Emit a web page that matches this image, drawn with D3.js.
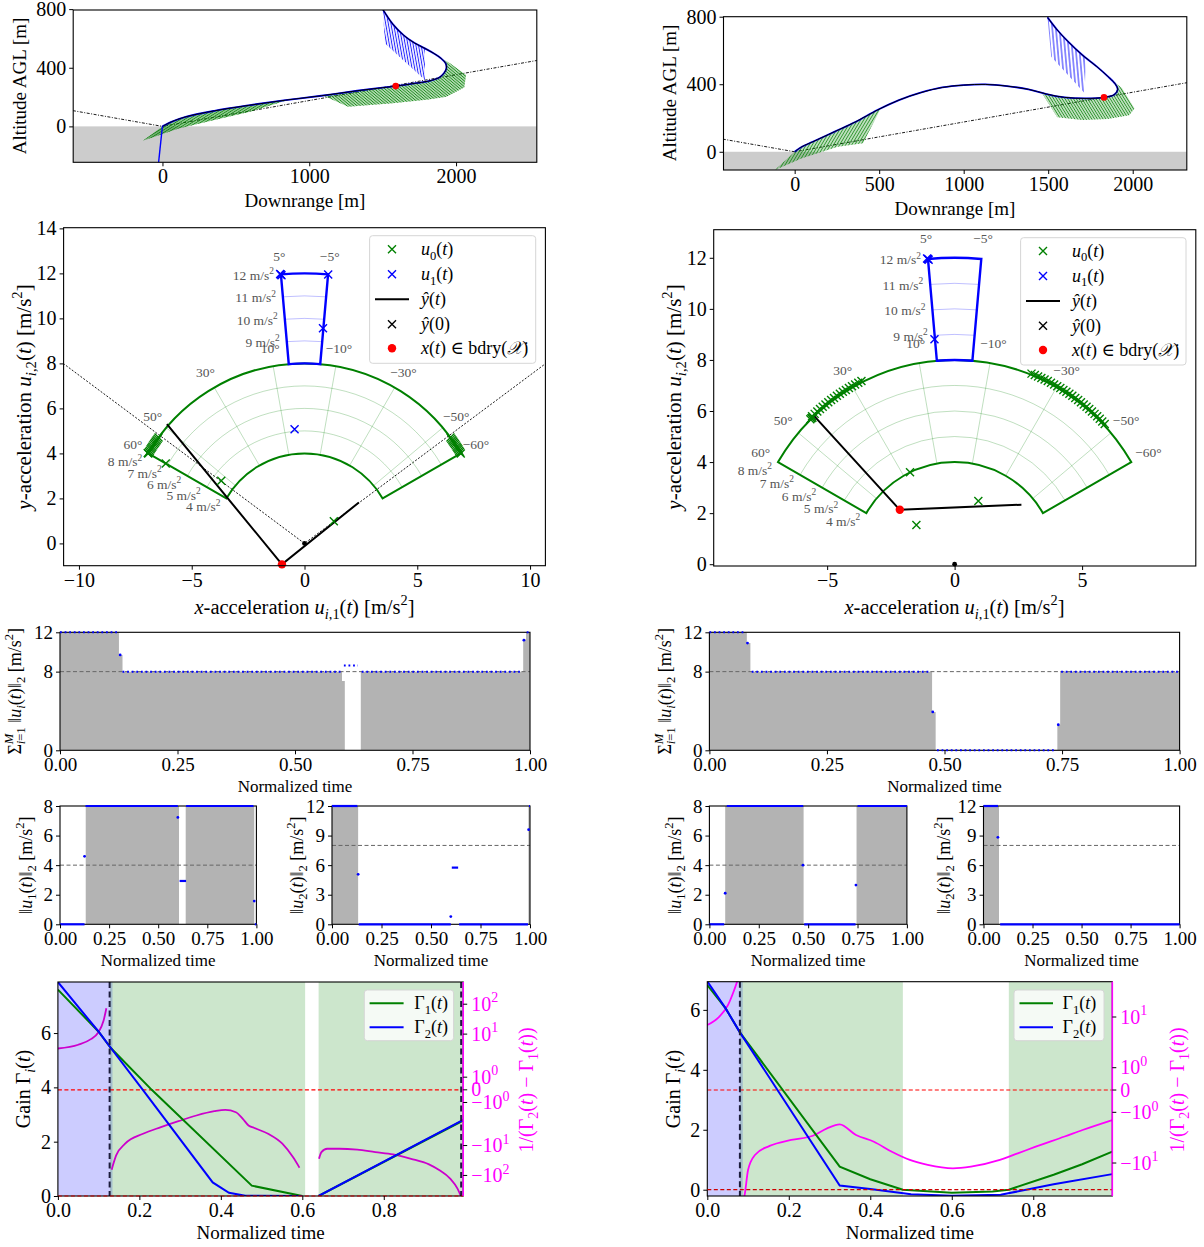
<!DOCTYPE html>
<html><head><meta charset="utf-8">
<script src="https://cdn.jsdelivr.net/npm/d3@7"></script>
<style>
body{margin:0;background:#fff;}
svg{display:block;}
</style></head><body>
<script>
// ===================== DATA =====================
// --- Trajectories (downrange m, altitude m) ---
const glideA = [[-610, 107.5], [0, 0], [2560, 451.4]];
const trajA = [[1501,798],[1569,698],[1642,623],[1715,570],[1788,532],[1849,498],[1898,464],[1929,430],[1934,396],[1917,362],[1886,334],[1813,309],[1715,293],[1589,275],[1326,243],[1082,209],[839,179],[596,145],[353,106],[158,65],[61,31],[17,9],[0,0]];
const boundaryA = [1589, 275];
const thrustU0A_early = [[0,0],[17,9],[61,31],[158,65],[353,106],[596,145],[839,179],[876,185],[815,168],[596,100],[353,43],[110,-14],[-134,-98]];
const thrustU0A_late = [[1095,211],[1326,243],[1589,275],[1715,293],[1813,309],[1886,334],[1917,362],[1934,396],[1929,430],[1898,464],[1849,498],[1788,532],[1958,430],[2068,350],[2056,266],[1934,202],[1813,184],[1569,157],[1265,134]];
const thrustU1A = [[1501,798],[1569,698],[1642,623],[1715,570],[1788,532],[1788,316],[1516,566]];
const landingU1A = [[0, 3], [-32, -300]];

const glideB = [[-425, 74.9], [0, 0], [2330, 410.8]];
const trajB = [[1496,796],[1554,721],[1618,652],[1702,573],[1788,504],[1851,448],[1894,405],[1911,370],[1890,338],[1830,322],[1724,316],[1597,322],[1490,342],[1383,370],[1256,389],[1128,399],[1000,395],[873,381],[745,350],[617,306],[489,247],[362,178],[234,118],[107,59],[43,30],[0,0]];
const boundaryB = [1830, 322];
const thrustU0B_early = [[0,0],[43,30],[107,59],[234,118],[362,178],[489,247],[510,258],[404,50],[255,30],[43,-39],[-117,-108]];
const thrustU0B_late = [[1464,346],[1490,342],[1597,322],[1724,316],[1830,322],[1890,338],[1911,370],[1894,405],[1851,448],[1788,504],[1702,573],[1937,376],[2011,257],[1979,217],[1851,194],[1702,188],[1554,204]];
const thrustU1B = [[1496,796],[1554,721],[1618,652],[1702,573],[1722,556],[1716,346],[1518,563]];

// --- Acceleration sets (m/s^2, deg) ---
const mainRadii = [4, 8], mainHalfAngle = 60;
const mainGridRadii = [5, 6, 7], mainGridAngles = [-50, -30, -10, 10, 30, 50];
const mainAngleLabels = [60, 50, 30, 10, -10, -30, -50, -60];
const mainRadiusLabels = [4, 5, 6, 7, 8];
const boostRadii = [8, 12], boostHalfAngle = 5;
const boostGridRadii = [9, 10, 11];
const boostAngleLabels = [5, -5];
const boostRadiusLabels = [9, 10, 11, 12];

const glideAccC = [[-10.7, 8], [0, 0], [10.7, 8]];
const u0C = [[-3.69,2.78],[1.3,0.99],[-6.15,3.55],[-6.95,4.02]];
const u0C_arcAngles = [54,54.5,55,55.5,56,56.5,57,57.5,58,58.5,59,59.5,60,-54,-54.5,-55,-55.5,-56,-56.5,-57,-57.5,-58,-58.5,-59,-59.5,-60];
const u1C = [[-1.05,11.95],[-1.02,11.92],[-1.08,11.97],[1.05,11.95],[0.82,9.56],[-0.44,5.07]];
const yhatC = [[-6.1,5.3],[-1.0,-0.93],[2.41,1.82]];
const boundaryC = [-1.0, -0.93];

const u0D = [[-1.75,3.6],[0.93,2.48],[-1.5,1.54],[-5.62,5.72],[-5.58,5.74],[-5.66,5.68]];
const u0D_arcAngles = [27,28,29,30,31,32,33,34,35,36,37,38,39,40,41,42,43,44,-22,-23,-24,-25,-26,-27,-28,-29,-30,-31,-32,-33,-34,-35,-36,-37,-38,-39,-40,-41,-42,-43,-44,-45,-46,-47];
const u1D = [[-1.05,11.95],[-1.02,11.92],[-1.08,11.97],[-0.79,8.81]];
const yhatD = [[-5.55,5.85],[-2.15,2.13],[2.62,2.33]];
const boundaryD = [-2.15, 2.13];

// --- Thrust magnitude histories (normalized time, m/s^2) ---
const sumFillE = [[0,12],[0.1254,9.7],[0.133,8],[0.6,7.05],[0.606,0],[0.64,8],[0.9855,11.3],[0.9916,12],[1,12]];
const sumRunsE = [[0,0.123,12],[0.133,0.598,8],[0.604,0.634,8.62],[0.642,0.983,8],[0.993,1,12]];
const sumDotsE = [[0.128,9.7],[0.987,11.2]];
const sumFillF = [[0,12],[0.0796,10.9],[0.0872,8],[0.4736,3.9],[0.4812,0],[0.74,2.6],[0.746,8],[1,8]];
const sumRunsF = [[0,0.077,12],[0.09,0.47,8],[0.484,0.737,0],[0.748,1,8]];
const sumDotsF = [[0.081,10.9],[0.475,3.9],[0.742,2.6]];

const u1FillG = [[0,0],[0.131,8],[0.606,0],[0.64,8],[0.989,0],[1,0]];
const u1RunsG = [[0,0.125,0],[0.13,0.6,8],[0.609,0.642,2.93],[0.642,0.985,8],[0.992,1,0]];
const u1DotsG = [[0.125,4.6],[0.6,7.23],[0.989,1.57]];
const u2FillH = [[0,12],[0.132,0],[0.992,12],[1,12]];
const u2RunsH = [[0,0.128,12],[0.135,0.6,0],[0.605,0.637,5.75],[0.642,0.99,0],[0.995,1,12]];
const u2DotsH = [[0.132,5.07],[0.6,0.78],[0.993,9.6]];
const u1FillI = [[0,0],[0.08,8],[0.477,0],[0.745,8],[1,8]];
const u1RunsI = [[0,0.075,0],[0.088,0.475,8],[0.48,0.74,0],[0.75,1,8]];
const u1DotsI = [[0.08,2.1],[0.474,4.0],[0.742,2.65]];
const u2FillJ = [[0,12],[0.079,0],[1,0]];
const u2RunsJ = [[0,0.074,12],[0.085,1,0]];
const u2DotsJ = [[0.0734,8.82]];

// --- Gains ---
const gamma1K = [[[0,7.6],[0.1,6.05],[0.13,5.45],[0.231,3.9],[0.476,0.38],[0.6,0.0]],[[0.64,0.0],[0.995,2.78]]];
const gamma2K = [[[0,7.88],[0.1,6.05],[0.13,5.45],[0.209,3.9],[0.38,0.5],[0.42,0.12],[0.46,0.01],[0.6,0.0]],[[0.64,0.0],[0.995,2.8]]];
const invDiffK = [
  [[0,3.3],[0.05,4.4],[0.081,6.8],[0.099,11.3],[0.112,27.8],[0.119,73]],
  [[0.132,-64],[0.143,-21.4],[0.165,-8.7],[0.209,-4.05],[0.253,-2.95],[0.296,-2.48],[0.34,-2.03],[0.384,-1.69],[0.411,-1.58],[0.437,-1.77],[0.454,-2.29],[0.468,-2.82],[0.481,-3.0],[0.516,-4.05],[0.551,-8.7],[0.577,-24.4],[0.593,-55]],
  [[0.641,-27.7],[0.647,-16.6],[0.661,-12.8],[0.691,-12.8],[0.735,-13.8],[0.779,-16.6],[0.823,-19.8],[0.867,-27.7],[0.911,-42.7],[0.937,-67.6],[0.963,-128],[0.981,-277],[0.989,-480]]
];
const phaseBoostK = [[0, 0.134]], phaseMainK = [[0.128, 0.607], [0.64, 0.995]];
const switchK = [0.127, 0.99];

const gamma1L = [[0,6.83],[0.045,6.05],[0.08,5.25],[0.325,0.77],[0.4,0.35],[0.48,0.0],[0.6,-0.1],[0.7,-0.06],[0.74,0.0],[0.85,0.5],[0.92,0.85],[0.994,1.27]];
const gamma2L = [[0,6.95],[0.045,6.05],[0.08,5.25],[0.325,0.14],[0.4,0.02],[0.5,-0.15],[0.6,-0.2],[0.72,-0.17],[0.85,0.18],[0.994,0.52]];
const invDiffL = [
  [[0,6.95],[0.029,10.1],[0.051,17.3],[0.066,34],[0.075,55]],
  [[0.088,-50],[0.091,-44.7],[0.1,-13.7],[0.117,-6.95],[0.153,-4.6],[0.206,-3.5],[0.259,-2.9],[0.294,-2.07],[0.325,-1.73],[0.365,-2.8],[0.409,-3.8],[0.453,-6.0],[0.497,-8.7],[0.541,-10.9],[0.603,-12.7],[0.647,-11.8],[0.718,-8.7],[0.762,-6.45],[0.806,-4.75],[0.877,-3.0],[0.921,-2.23],[0.994,-1.42]]
];
const phaseBoostL = [[0, 0.087]], phaseMainL = [[0.08, 0.48], [0.74, 0.994]];
const switchL = [0.08];

// ===================== DRAWING =====================
const FONT = '"Liberation Serif","DejaVu Serif",serif';
const GREEN = '#008000', BLUE = '#0000ff';
const svg = d3.select('body').append('svg').attr('width', 1204).attr('height', 1247)
  .attr('font-family', FONT);
const defs = svg.append('defs');
let clipN = 0;

function panel(box, xd, yd) {
  const g = svg.append('g');
  const x = d3.scaleLinear().domain(xd).range([box.l, box.r]);
  const y = d3.scaleLinear().domain(yd).range([box.b, box.t]);
  const id = 'clip' + (clipN++);
  defs.append('clipPath').attr('id', id).append('rect')
    .attr('x', box.l).attr('y', box.t).attr('width', box.r - box.l).attr('height', box.b - box.t);
  const inner = g.append('g').attr('clip-path', `url(#${id})`);
  return { g, inner, x, y, box };
}
function frame(p) {
  p.g.append('rect').attr('x', p.box.l).attr('y', p.box.t)
    .attr('width', p.box.r - p.box.l).attr('height', p.box.b - p.box.t)
    .attr('fill', 'none').attr('stroke', '#000').attr('stroke-width', 1.1);
}
function axes(p, o) {
  const gx = p.g.append('g').attr('transform', `translate(0,${p.box.b})`)
    .call(d3.axisBottom(p.x).tickValues(o.xt).tickFormat(o.xf).tickSize(4).tickPadding(3));
  const gy = p.g.append('g').attr('transform', `translate(${p.box.l},0)`)
    .call(d3.axisLeft(p.y).tickValues(o.yt).tickFormat(o.yf).tickSize(4).tickPadding(3));
  for (const s of [gx, gy]) {
    s.attr('font-family', FONT).attr('font-size', o.fs);
    s.select('.domain').remove();
    s.selectAll('line').attr('stroke', '#000').attr('stroke-width', 1);
    s.selectAll('text').attr('fill', '#000');
  }
  return gy;
}

// Minimal math-text renderer: $..$ toggles italics, _{..} subscript, ^{..} superscript
function rich(text, str, fs) {
  const ch = Array.from(str);
  const toks = [];
  let it = false, i = 0, grpId = 0;
  const push = (c, sh, gid) => {
    const last = toks[toks.length - 1];
    if (last && last.it === it && last.sh === sh && last.gid === gid) last.tx += c;
    else toks.push({ tx: c, it, sh, gid });
  };
  while (i < ch.length) {
    const c = ch[i];
    if (c === '$') { it = !it; i++; continue; }
    if (c === '_' || c === '^') {
      const sh = c === '_' ? 'sub' : 'sup';
      i++;
      let grp;
      if (ch[i] === '{') { const j = ch.indexOf('}', i); grp = ch.slice(i + 1, j); i = j + 1; }
      else { grp = [ch[i]]; i++; }
      grpId++;
      for (const g of grp) { if (g === '$') { it = !it; continue; } push(g, sh, grpId); }
      continue;
    }
    push(c, null, 0); i++;
  }
  let cur = 0, prevSh = null, prevGid = -1, grpLen = 0;
  for (const t of toks) {
    const ts = text.append('tspan').text(t.tx)
      .attr('font-size', t.sh ? fs * 0.7 : fs)
      .attr('font-style', t.it ? 'italic' : 'normal');
    const target = t.sh === 'sub' ? 0.25 * fs : t.sh === 'sup' ? -0.42 * fs : 0;
    if (target !== cur) { ts.attr('dy', target - cur); cur = target; }
    if (t.sh && prevSh && prevSh !== t.sh && t.gid !== prevGid && grpLen > 0) {
      ts.attr('dx', -grpLen); grpLen = 0;
    }
    if (t.gid !== prevGid) grpLen = 0;
    grpLen += ts.node().getComputedTextLength();
    prevSh = t.sh; prevGid = t.gid;
  }
  return text;
}
function label(g, x, y, str, fs, o = {}) {
  const t = g.append('text').attr('font-size', fs).attr('text-anchor', o.anchor || 'middle')
    .attr('fill', o.color || '#000');
  if (o.rotate) t.attr('transform', `translate(${x},${y}) rotate(${o.rotate})`).attr('x', 0).attr('y', 0.33 * fs);
  else t.attr('x', x).attr('y', y + 0.33 * fs);
  rich(t, str, fs);
  return t;
}
function hatch(id, color, spacing, angle, width) {
  const pt = defs.append('pattern').attr('id', id).attr('patternUnits', 'userSpaceOnUse')
    .attr('width', spacing).attr('height', 10).attr('patternTransform', `rotate(${angle - 90})`);
  pt.append('line').attr('x1', spacing / 2).attr('x2', spacing / 2).attr('y1', -1).attr('y2', 11)
    .attr('stroke', color).attr('stroke-width', width);
}
const lineXY = p => d3.line().x(d => p.x(d[0])).y(d => p.y(d[1]));

// ---------- Trajectory panels ----------
function trajectory(box, xd, yd, data, ticks, xlab, ylab) {
  const p = panel(box, xd, yd);
  p.inner.append('rect').attr('x', p.box.l).attr('width', p.box.r - p.box.l)
    .attr('y', p.y(0)).attr('height', p.box.b - p.y(0)).attr('fill', '#cccccc');
  p.inner.append('path').attr('d', lineXY(p)(data.glide)).attr('fill', 'none')
    .attr('stroke', '#000').attr('stroke-width', 0.9).attr('stroke-dasharray', '3,1.5,1,1.5');
  for (const r of data.regions) {
    const d = lineXY(p).curve(d3.curveLinearClosed)(r.poly);
    if (r.tint) p.inner.append('path').attr('d', d).attr('fill', r.color).attr('fill-opacity', r.tint);
    p.inner.append('path').attr('d', d).attr('fill', `url(#${r.pat})`);
  }
  if (data.landing) p.inner.append('path').attr('d', lineXY(p)(data.landing)).attr('stroke', BLUE)
    .attr('stroke-width', 1.4).attr('fill', 'none');
  const tl = lineXY(p).curve(d3.curveCatmullRom.alpha(0.5));
  p.inner.append('path').attr('d', tl(data.traj)).attr('fill', 'none').attr('stroke', BLUE).attr('stroke-width', 1.8);
  p.inner.append('path').attr('d', tl(data.traj)).attr('fill', 'none').attr('stroke', '#000').attr('stroke-width', 1);
  p.g.append('circle').attr('cx', p.x(data.red[0])).attr('cy', p.y(data.red[1])).attr('r', 3.3).attr('fill', 'red');
  frame(p);
  axes(p, { xt: ticks.x, yt: ticks.y, xf: d3.format('d'), yf: d3.format('d'), fs: 20 });
  label(svg, xlab[0], xlab[1], 'Downrange [m]', 19);
  label(svg, ylab[0], ylab[1], 'Altitude AGL [m]', 19, { rotate: -90 });
}
hatch('hA0', GREEN, 2.2, 148, 0.7);
hatch('hA1', GREEN, 2.2, 40, 0.7);
hatch('hA2', BLUE, 2.6, 80, 0.8);
hatch('hB0', GREEN, 2.6, 121, 0.7);
hatch('hB1', GREEN, 2.4, 58, 0.7);
hatch('hB2', BLUE, 3.6, 85, 0.9);

trajectory({ l: 73.2, r: 536.8, t: 10, b: 162.3 }, [-608, 2550], [-245, 794], {
  glide: glideA, traj: trajA, red: boundaryA, landing: landingU1A,
  regions: [
    { poly: thrustU0A_early, pat: 'hA0', color: GREEN, tint: 0.45 },
    { poly: thrustU0A_late, pat: 'hA1', color: GREEN, tint: 0.32 },
    { poly: thrustU1A, pat: 'hA2', color: BLUE, tint: 0.08 }
  ]
}, { x: [0, 1000, 2000], y: [0, 400, 800] }, [305, 201], [20, 86]);

trajectory({ l: 723.5, r: 1186.8, t: 16.7, b: 170 }, [-421, 2320], [-108, 800], {
  glide: glideB, traj: trajB, red: boundaryB,
  regions: [
    { poly: thrustU0B_early, pat: 'hB0', color: GREEN, tint: 0.25 },
    { poly: thrustU0B_late, pat: 'hB1', color: GREEN, tint: 0.25 },
    { poly: thrustU1B, pat: 'hB2', color: BLUE, tint: 0 }
  ]
}, { x: [0, 500, 1000, 1500, 2000], y: [0, 400, 800] }, [955, 209], [670, 93]);

// ---------- Acceleration-set panels ----------
const polar = (r, deg) => { const a = deg * Math.PI / 180; return [-r * Math.sin(a), r * Math.cos(a)]; };
function cross(g, cx, cy, s, color, w) {
  g.append('path').attr('d', `M${cx - s},${cy - s}L${cx + s},${cy + s}M${cx - s},${cy + s}L${cx + s},${cy - s}`)
    .attr('stroke', color).attr('stroke-width', w).attr('fill', 'none');
}
function accel(box, xd, yd, d, ticks, lab, leg) {
  const p = panel(box, xd, yd);
  const X = q => p.x(q[0]), Y = q => p.y(q[1]);
  const kx = Math.abs(p.x(1) - p.x(0)), ky = Math.abs(p.y(0) - p.y(1));
  const arc = (r, t0, t1) => { const a = polar(r, t0), b = polar(r, t1); return `M${X(a)},${Y(a)}A${r * kx},${r * ky} 0 0 1 ${X(b)},${Y(b)}`; };
  const sector = (r0, r1, th) => {
    const a = polar(r1, th), b = polar(r1, -th), c = polar(r0, -th), e = polar(r0, th);
    return `M${X(a)},${Y(a)}A${r1 * kx},${r1 * ky} 0 0 1 ${X(b)},${Y(b)}L${X(c)},${Y(c)}A${r0 * kx},${r0 * ky} 0 0 0 ${X(e)},${Y(e)}Z`;
  };
  if (d.glide) p.inner.append('path').attr('d', lineXY(p)(d.glide)).attr('fill', 'none')
    .attr('stroke', '#000').attr('stroke-width', 0.9).attr('stroke-dasharray', '2,1.6');
  // main-engine set grid
  for (const r of mainGridRadii) p.inner.append('path').attr('d', arc(r, mainHalfAngle, -mainHalfAngle))
    .attr('fill', 'none').attr('stroke', GREEN).attr('stroke-opacity', 0.25).attr('stroke-width', 1);
  for (const a of mainGridAngles) {
    const s = polar(mainRadii[0], a), e = polar(mainRadii[1], a);
    p.inner.append('line').attr('x1', X(s)).attr('y1', Y(s)).attr('x2', X(e)).attr('y2', Y(e))
      .attr('stroke', GREEN).attr('stroke-opacity', 0.25).attr('stroke-width', 1);
  }
  p.inner.append('path').attr('d', sector(mainRadii[0], mainRadii[1], mainHalfAngle))
    .attr('fill', 'none').attr('stroke', GREEN).attr('stroke-width', 2);
  // boost set grid
  for (const r of boostGridRadii) p.inner.append('path').attr('d', arc(r, boostHalfAngle, -boostHalfAngle))
    .attr('fill', 'none').attr('stroke', BLUE).attr('stroke-opacity', 0.25).attr('stroke-width', 1);
  p.inner.append('path').attr('d', sector(boostRadii[0], boostRadii[1], boostHalfAngle))
    .attr('fill', 'none').attr('stroke', BLUE).attr('stroke-width', 2.4);
  // set annotations
  const gl = p.g.append('g');
  const LC = '#555', LF = 13.5;
  for (const a of mainAngleLabels) { const q = polar(8.78, a); label(gl, X(q), Y(q), (a < 0 ? '−' : '') + Math.abs(a) + '°', LF, { color: LC }); }
  for (const a of boostAngleLabels) { const q = polar(12.8, a); label(gl, X(q), Y(q), (a < 0 ? '−' : '') + Math.abs(a) + '°', LF, { color: LC }); }
  for (const r of mainRadiusLabels) { const q = polar(r, mainHalfAngle); label(gl, X(q) - 6, Y(q) + 8.5, r + ' m/s^{2}', LF, { color: LC, anchor: 'end' }); }
  for (const r of boostRadiusLabels) { const q = polar(r, boostHalfAngle); label(gl, X(q) - 7, Y(q) + 1, r + ' m/s^{2}', LF, { color: LC, anchor: 'end' }); }
  // guidance output and control samples
  p.inner.append('path').attr('d', lineXY(p)(d.yhat)).attr('fill', 'none').attr('stroke', '#000').attr('stroke-width', 2);
  for (const q of d.u0) cross(p.g, X(q), Y(q), 4, GREEN, 1.4);
  for (const a of d.u0arc) { const q = polar(d.arcR, a); cross(p.g, X(q), Y(q), 4, GREEN, 1.4); }
  for (const q of d.u1) cross(p.g, X(q), Y(q), 4, BLUE, 1.4);
  p.g.append('circle').attr('cx', p.x(0)).attr('cy', p.y(0)).attr('r', 2.4).attr('fill', '#000');
  p.g.append('circle').attr('cx', X(d.red)).attr('cy', Y(d.red)).attr('r', 4.2).attr('fill', 'red');
  frame(p);
  axes(p, { xt: ticks.x, yt: ticks.y, xf: d3.format('d'), yf: d3.format('d'), fs: 20 });
  label(svg, lab.x[0], lab.x[1], '$x$-acceleration $u$_{$i$,1}($t$) [m/s^{2}]', 20.5);
  label(svg, lab.y[0], lab.y[1], '$y$-acceleration $u$_{$i$,2}($t$) [m/s^{2}]', 21, { rotate: -90 });
  // legend
  const lg = svg.append('g');
  lg.append('rect').attr('x', leg.x0).attr('y', leg.y0).attr('width', leg.x1 - leg.x0).attr('height', leg.y1 - leg.y0)
    .attr('rx', 3).attr('fill', '#fff').attr('fill-opacity', 0.85).attr('stroke', '#d6d6d6');
  const rows = leg.rows;
  cross(lg, leg.mx, rows[0], 4, GREEN, 1.4);
  cross(lg, leg.mx, rows[1], 4, BLUE, 1.4);
  lg.append('line').attr('x1', leg.mx - 17).attr('x2', leg.mx + 17).attr('y1', rows[2]).attr('y2', rows[2]).attr('stroke', '#000').attr('stroke-width', 2);
  cross(lg, leg.mx, rows[3], 4, '#000', 1.4);
  lg.append('circle').attr('cx', leg.mx).attr('cy', rows[4]).attr('r', 4.2).attr('fill', 'red');
  const texts = ['$u$_{0}($t$)', '$u$_{1}($t$)', '$ŷ$($t$)', '$ŷ$(0)', '$x$($t$) ∈ bdry($𝒳$)'];
  texts.forEach((s, k) => label(lg, leg.tx, rows[k], s, 18, { anchor: 'start' }));
}
accel({ l: 63.6, r: 545.4, t: 227.7, b: 565.7 }, [-10.68, 10.68], [-0.99, 14.03],
  { glide: glideAccC, yhat: yhatC, u0: u0C, u0arc: u0C_arcAngles, arcR: 8.0, u1: u1C, red: boundaryC },
  { x: [-10, -5, 0, 5, 10], y: [0, 2, 4, 6, 8, 10, 12, 14] },
  { x: [304.5, 607], y: [24, 397] },
  { x0: 369.6, y0: 235.7, x1: 535.7, y1: 363.3, mx: 392, tx: 421, rows: [249.3, 274.3, 299.3, 324.3, 348.3] });
accel({ l: 713.7, r: 1195.8, t: 229.7, b: 566 }, [-9.45, 9.46], [-0.07, 13.1],
  { yhat: yhatD, u0: u0D, u0arc: u0D_arcAngles, arcR: 8.05, u1: u1D, red: boundaryD },
  { x: [-5, 0, 5], y: [0, 2, 4, 6, 8, 10, 12] },
  { x: [954.5, 607], y: [674, 397] },
  { x0: 1020.6, y0: 237.7, x1: 1186, y1: 365, mx: 1043, tx: 1072, rows: [251, 276, 301, 325.7, 350] });

// ---------- Thrust magnitude panels ----------
function history(box, ymax, fill, runs, dots, level, yt, dotted, ylab, fs) {
  const p = panel(box, [0, 1], [0, ymax]);
  p.inner.append('path').attr('d', d3.area().curve(d3.curveStepAfter).x(d => p.x(d[0])).y0(p.y(0)).y1(d => p.y(d[1]))(fill))
    .attr('fill', '#b3b3b3');
  p.inner.append('line').attr('x1', p.box.l).attr('x2', p.box.r).attr('y1', p.y(level)).attr('y2', p.y(level))
    .attr('stroke', '#666').attr('stroke-width', 1).attr('stroke-dasharray', '4,2.5');
  frame(p);
  for (const r of runs) {
    p.g.append('line').attr('x1', p.x(r[0])).attr('x2', p.x(r[1])).attr('y1', p.y(r[2])).attr('y2', p.y(r[2]))
      .attr('stroke', BLUE).attr('stroke-width', dotted ? 2 : 2.2)
      .attr('stroke-dasharray', dotted ? '1.8,2.8' : null);
  }
  for (const q of dots) p.g.append('circle').attr('cx', p.x(q[0])).attr('cy', p.y(q[1])).attr('r', 1.4).attr('fill', BLUE);
  axes(p, { xt: [0, 0.25, 0.5, 0.75, 1], yt: yt, xf: d3.format('.2f'), yf: d3.format('d'), fs: 19 });
  label(svg, (box.l + box.r) / 2, box.b + 36, 'Normalized time', 17);
  label(svg, ylab[1], (box.t + box.b) / 2, ylab[0], fs || 18, { rotate: -90 });
}
const sumLab = 'Σ^{$M$}_{$i$=1} ‖$u$_{$i$}($t$)‖_{2} [m/s^{2}]';
history({ l: 60, r: 530, t: 632.3, b: 750.3 }, 12, sumFillE, sumRunsE, sumDotsE, 8, [0, 8, 12], true, [sumLab, 15], 18);
history({ l: 709.4, r: 1179.6, t: 632.3, b: 750.3 }, 12, sumFillF, sumRunsF, sumDotsF, 8, [0, 8, 12], true, [sumLab, 665], 18);
history({ l: 60, r: 256.4, t: 806, b: 924.3 }, 8, u1FillG, u1RunsG, u1DotsG, 4, [0, 2, 4, 6, 8], false, ['‖$u$_{1}($t$)‖_{2} [m/s^{2}]', 26]);
history({ l: 332, r: 530, t: 806, b: 924.3 }, 12, u2FillH, u2RunsH, u2DotsH, 8, [0, 3, 6, 9, 12], false, ['‖$u$_{2}($t$)‖_{2} [m/s^{2}]', 297]);
history({ l: 709.4, r: 906.9, t: 806, b: 924.3 }, 8, u1FillI, u1RunsI, u1DotsI, 4, [0, 2, 4, 6, 8], false, ['‖$u$_{1}($t$)‖_{2} [m/s^{2}]', 675]);
history({ l: 983.5, r: 1179.6, t: 806, b: 924.3 }, 12, u2FillJ, u2RunsJ, u2DotsJ, 8, [0, 3, 6, 9, 12], false, ['‖$u$_{2}($t$)‖_{2} [m/s^{2}]', 944]);

// ---------- Gain panels ----------
function symlog(a, b) { return v => { const m = Math.abs(v); return m <= a ? v * b : Math.sign(v) * a * (b + Math.log10(m / a)); }; }
function gains(box, xd, yd, o) {
  const p = panel(box, xd, yd);
  const rs = d3.scaleLinear().domain([o.sym(o.rd[0]), o.sym(o.rd[1])]).range([box.b, box.t]);
  const yR = v => rs(o.sym(v));
  for (const s of o.boost) p.inner.append('rect').attr('x', p.x(s[0])).attr('width', p.x(s[1]) - p.x(s[0]))
    .attr('y', box.t).attr('height', box.b - box.t).attr('fill', BLUE).attr('fill-opacity', 0.2);
  for (const s of o.main) p.inner.append('rect').attr('x', p.x(s[0])).attr('width', p.x(s[1]) - p.x(s[0]))
    .attr('y', box.t).attr('height', box.b - box.t).attr('fill', GREEN).attr('fill-opacity', 0.2);
  p.inner.append('line').attr('x1', box.l).attr('x2', box.r).attr('y1', yR(0)).attr('y2', yR(0))
    .attr('stroke', 'red').attr('stroke-width', 1.2).attr('stroke-dasharray', '4,2.5');
  const ml = d3.line().x(d => p.x(d[0])).y(d => yR(d[1])).curve(d3.curveMonotoneX);
  for (const seg of o.inv) p.inner.append('path').attr('d', ml(seg)).attr('fill', 'none').attr('stroke', o.mag).attr('stroke-width', 1.8);
  const gl = lineXY(p);
  const segs = v => Array.isArray(v[0][0]) ? v : [v];
  for (const seg of segs(o.g1)) p.inner.append('path').attr('d', gl(seg)).attr('fill', 'none').attr('stroke', GREEN).attr('stroke-width', 2);
  for (const seg of segs(o.g2)) p.inner.append('path').attr('d', gl(seg)).attr('fill', 'none').attr('stroke', BLUE).attr('stroke-width', 2);
  for (const t of o.sw) p.inner.append('line').attr('x1', p.x(t)).attr('x2', p.x(t)).attr('y1', box.t).attr('y2', box.b)
    .attr('stroke', '#1c1c3c').attr('stroke-width', 2).attr('stroke-dasharray', '6,3.5');
  frame(p);
  p.g.append('line').attr('x1', box.l).attr('x2', box.r).attr('y1', p.y(0)).attr('y2', p.y(0))
    .attr('stroke', '#c00').attr('stroke-width', 1.2).attr('stroke-dasharray', '4,2.5');
  p.g.append('line').attr('x1', box.r).attr('x2', box.r).attr('y1', box.t).attr('y2', box.b).attr('stroke', '#ff00ff').attr('stroke-width', 1.6);
  axes(p, { xt: [0, 0.2, 0.4, 0.6, 0.8], yt: [0, 2, 4, 6], xf: d3.format('.1f'), yf: d3.format('d'), fs: 20 });
  // right symlog axis
  const ra = p.g.append('g');
  for (const v of o.rt) {
    const yy = yR(v);
    ra.append('line').attr('x1', box.r).attr('x2', box.r + 4).attr('y1', yy).attr('y2', yy).attr('stroke', '#000').attr('stroke-width', 1);
    const s = v === 0 ? '0' : (v < 0 ? '−' : '') + '10^{' + Math.round(Math.log10(Math.abs(v))) + '}';
    label(ra, box.r + 8, yy, s, 20, { anchor: 'start', color: '#ff00ff' });
  }
  label(svg, (box.l + box.r) / 2, 1233, 'Normalized time', 19);
  label(svg, o.ylx, 1089, 'Gain Γ_{$i$}($t$)', 20, { rotate: -90 });
  label(svg, o.rlx, 1090, '1/(Γ_{2}($t$) − Γ_{1}($t$))', 20, { rotate: -90, color: '#ff00ff' });
  // legend
  const lg = svg.append('g');
  const L = o.leg;
  lg.append('rect').attr('x', L.x0).attr('y', L.y0).attr('width', L.x1 - L.x0).attr('height', L.y1 - L.y0)
    .attr('rx', 3).attr('fill', '#fff').attr('fill-opacity', 0.8).attr('stroke', '#d6d6d6');
  [[GREEN, 'Γ_{1}($t$)'], [BLUE, 'Γ_{2}($t$)']].forEach((e, k) => {
    const yy = L.rows[k];
    lg.append('line').attr('x1', L.lx0).attr('x2', L.lx1).attr('y1', yy).attr('y2', yy).attr('stroke', e[0]).attr('stroke-width', 2);
    label(lg, L.tx, yy, e[1], 18, { anchor: 'start' });
  });
}
gains({ l: 57.9, r: 463.2, t: 982, b: 1196 }, [0, 0.995], [0, 7.88], {
  sym: symlog(3.25, 1.375), rd: [-487, 553], rt: [-100, -10, -1, 0, 1, 10, 100],
  boost: phaseBoostK, main: phaseMainK, inv: invDiffK, g1: gamma1K, g2: gamma2K, sw: switchK,
  mag: '#cc00cc', ylx: 23, rlx: 526,
  leg: { x0: 364.3, y0: 990, x1: 453.6, y1: 1040.7, lx0: 369.6, lx1: 403.6, tx: 414.3, rows: [1003.3, 1027.3] }
});
gains({ l: 707.3, r: 1112.3, t: 981.7, b: 1196 }, [0, 0.994], [-0.21, 6.94], {
  sym: symlog(1, 0.44), rd: [-44.7, 49.7], rt: [-10, -1, 0, 1, 10],
  boost: phaseBoostL, main: phaseMainL, inv: invDiffL, g1: gamma1L, g2: gamma2L, sw: switchL,
  mag: '#ff00ff', ylx: 673, rlx: 1177,
  leg: { x0: 1014, y0: 990, x1: 1104, y1: 1040.7, lx0: 1019.5, lx1: 1053, tx: 1062.6, rows: [1003.3, 1027.3] }
});
</script></body></html>
